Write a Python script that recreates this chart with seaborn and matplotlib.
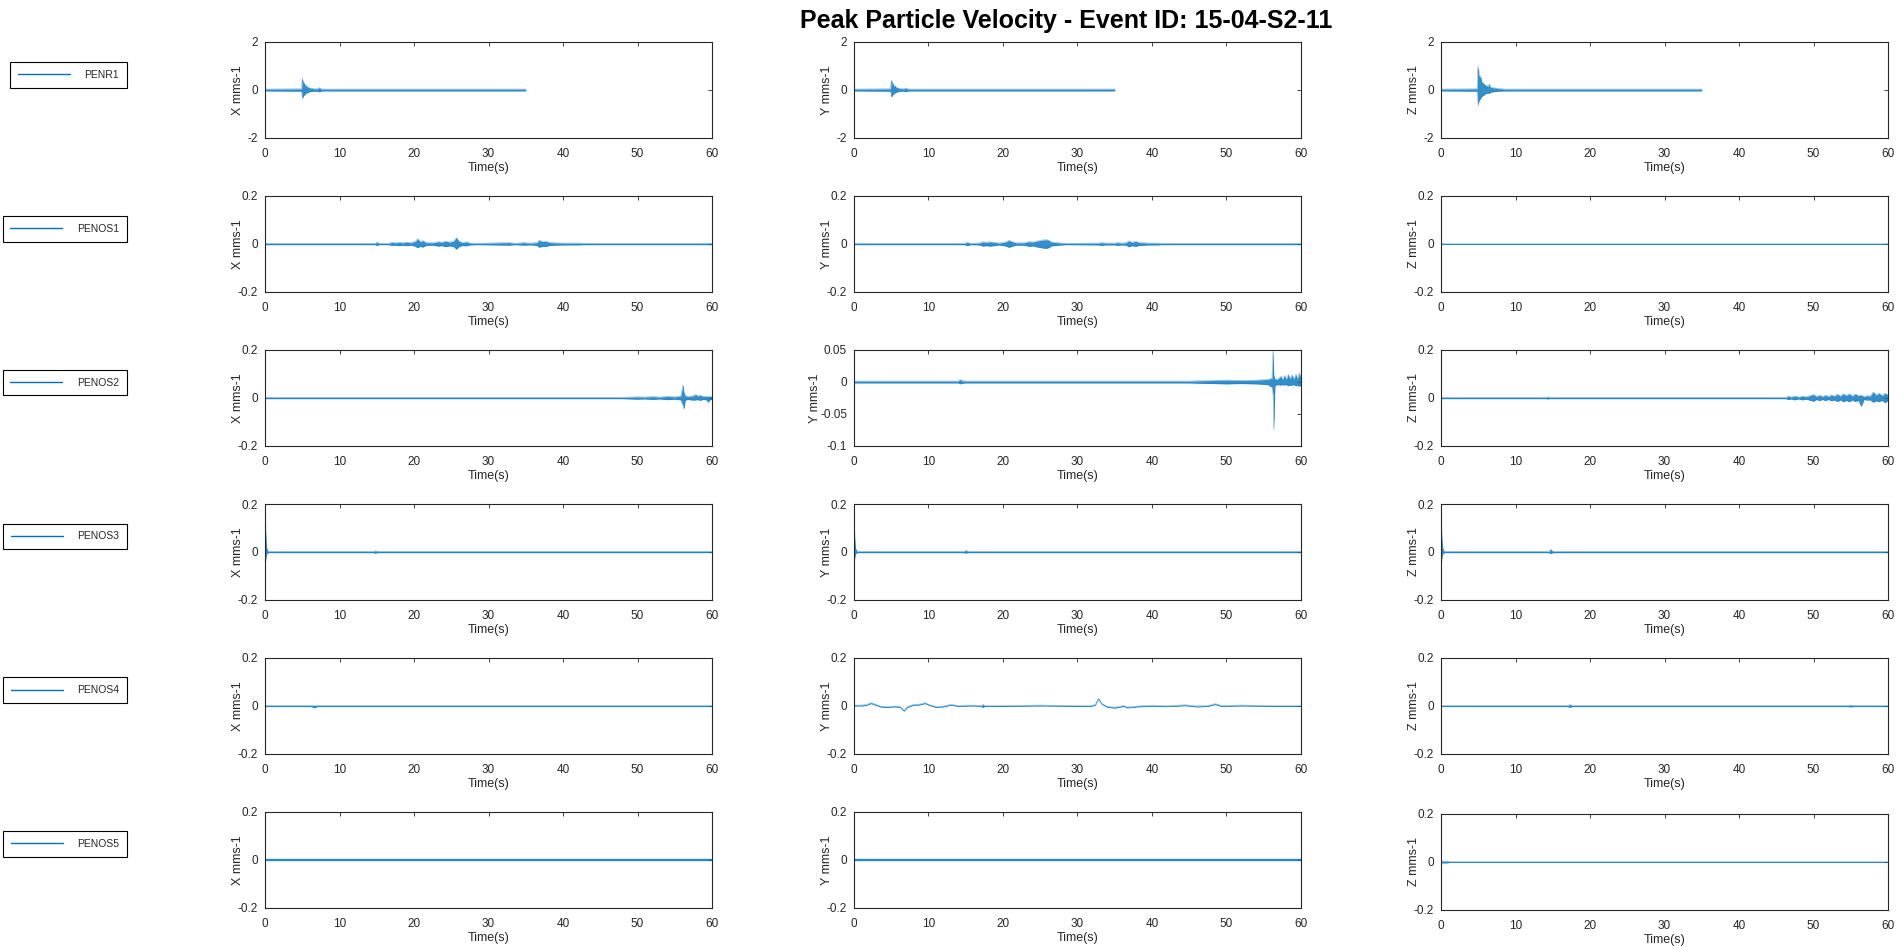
import matplotlib
matplotlib.use('Agg')
import numpy as np
import pandas as pd
import matplotlib.pyplot as plt
from matplotlib.lines import Line2D
import seaborn as sns

# station names, components, axis settings
stations = ['PENR1', 'PENOS1', 'PENOS2', 'PENOS3', 'PENOS4', 'PENOS5']
components = ['X', 'Y', 'Z']
title = 'Peak Particle Velocity - Event ID: 15-04-S2-11'
x_ticks = [0, 10, 20, 30, 40, 50, 60]
big_ticks = [-2, 0, 2]
big_labels = ['-2', '0', '2']
small_ticks = [-0.2, 0, 0.2]
small_labels = ['-0.2', '0', '0.2']
penos2_y_ticks = [-0.1, -0.05, 0, 0.05]
penos2_y_labels = ['-0.1', '-0.05', '0', '0.05']

# traces: time (s), upper and lower envelope (mm/s)
penr1_x_t = [0, 4.9, 5.0, 5.05, 5.1, 5.15, 5.2, 5.3, 5.4, 5.5, 5.65, 5.8, 6.0, 6.3, 6.6, 7.0, 7.3, 7.45, 7.8, 35]
penr1_x_hi = [0.04, 0.05, 0.5, 0.3, 0.42, 0.25, 0.32, 0.26, 0.18, 0.2, 0.12, 0.13, 0.08, 0.07, 0.05, 0.05, 0.1, 0.05, 0.04, 0.04]
penr1_x_lo = [-0.04, -0.05, -0.3, -0.36, -0.22, -0.3, -0.18, -0.24, -0.14, -0.15, -0.1, -0.1, -0.07, -0.06, -0.05, -0.05, -0.08, -0.05, -0.04, -0.04]

penr1_y_t = [0, 4.9, 5.0, 5.05, 5.1, 5.15, 5.2, 5.3, 5.4, 5.5, 5.65, 5.8, 6.0, 6.3, 6.7, 7.0, 7.1, 7.5, 35]
penr1_y_hi = [0.04, 0.05, 0.4, 0.25, 0.38, 0.22, 0.3, 0.2, 0.16, 0.18, 0.1, 0.11, 0.07, 0.06, 0.05, 0.09, 0.05, 0.04, 0.04]
penr1_y_lo = [-0.04, -0.05, -0.25, -0.3, -0.2, -0.26, -0.16, -0.2, -0.12, -0.13, -0.09, -0.09, -0.06, -0.05, -0.05, -0.08, -0.05, -0.04, -0.04]

penr1_z_t = [0, 4.85, 4.95, 5.0, 5.05, 5.1, 5.2, 5.3, 5.35, 5.45, 5.6, 5.8, 6.0, 6.3, 6.5, 6.6, 6.9, 7.3, 7.8, 8.5, 35]
penr1_z_hi = [0.04, 0.05, 1.0, 0.7, 0.9, 0.5, 0.6, 0.4, 0.55, 0.35, 0.3, 0.24, 0.2, 0.15, 0.25, 0.12, 0.1, 0.08, 0.06, 0.04, 0.04]
penr1_z_lo = [-0.04, -0.05, -0.5, -0.65, -0.45, -0.5, -0.35, -0.4, -0.3, -0.28, -0.24, -0.2, -0.15, -0.12, -0.15, -0.1, -0.08, -0.06, -0.05, -0.04, -0.04]

penos1_x_t = [0, 14.8, 15.0, 15.3, 16.6, 17.0, 17.5, 18.0, 18.5, 19.0, 19.6, 20.2, 20.5, 20.8, 21.2, 21.6, 22.5, 23.3, 23.7, 24.2, 24.8, 25.3, 25.7,
              26.0, 26.5, 27.0, 27.5, 28.5, 32.8, 33.2, 33.6, 34.8, 35.3, 35.8, 36.5, 36.8, 37.2, 37.7, 38.3, 39.0, 40.0, 41.0, 42.0, 43.0, 60]
penos1_x_hi = [0.003, 0.003, 0.008, 0.003, 0.003, 0.007, 0.005, 0.007, 0.005, 0.008, 0.005, 0.012, 0.022, 0.01, 0.014, 0.006, 0.005, 0.01, 0.007, 0.012, 0.008, 0.012, 0.027,
               0.012, 0.006, 0.009, 0.004, 0.003, 0.006, 0.004, 0.003, 0.006, 0.004, 0.004, 0.006, 0.016, 0.01, 0.011, 0.006, 0.005, 0.004, 0.004, 0.004, 0.003, 0.003]
penos1_x_lo = [-0.003, -0.003, -0.007, -0.003, -0.003, -0.006, -0.005, -0.007, -0.005, -0.007, -0.005, -0.01, -0.016, -0.01, -0.013, -0.006, -0.005, -0.009, -0.007, -0.011, -0.008, -0.011, -0.022,
               -0.012, -0.006, -0.008, -0.004, -0.003, -0.005, -0.004, -0.003, -0.005, -0.004, -0.004, -0.006, -0.014, -0.01, -0.01, -0.006, -0.005, -0.004, -0.004, -0.004, -0.003, -0.003]

penos1_y_t = [0, 14.8, 15.2, 15.6, 16.8, 17.3, 17.8, 18.3, 19.0, 19.5, 20.3, 20.8, 21.2, 21.7, 22.8, 23.5, 24.0, 24.5, 25.0, 25.4, 25.8,
              26.1, 26.5, 27.5, 28.5, 32.8, 33.2, 33.7, 35.0, 35.4, 35.9, 36.5, 36.9, 37.3, 37.8, 38.3, 39.0, 39.5, 40.7, 41.2, 43.0, 60]
penos1_y_hi = [0.003, 0.003, 0.007, 0.003, 0.004, 0.009, 0.007, 0.009, 0.006, 0.004, 0.008, 0.015, 0.01, 0.005, 0.005, 0.01, 0.008, 0.012, 0.015, 0.017, 0.018,
               0.016, 0.008, 0.005, 0.003, 0.004, 0.006, 0.004, 0.004, 0.006, 0.004, 0.005, 0.013, 0.007, 0.011, 0.006, 0.005, 0.004, 0.004, 0.003, 0.003, 0.003]
penos1_y_lo = [-0.003, -0.003, -0.007, -0.003, -0.004, -0.009, -0.007, -0.009, -0.006, -0.004, -0.008, -0.014, -0.01, -0.005, -0.005, -0.01, -0.008, -0.012, -0.015, -0.017, -0.018,
               -0.016, -0.008, -0.005, -0.003, -0.004, -0.006, -0.004, -0.004, -0.006, -0.004, -0.005, -0.012, -0.007, -0.01, -0.006, -0.005, -0.004, -0.004, -0.003, -0.003, -0.003]

penos1_z_t = [0, 0.5, 1.0, 60]
penos1_z_hi = [0.003, 0.002, 0.002, 0.002]
penos1_z_lo = [-0.003, -0.002, -0.002, -0.002]

penos2_x_t = [0, 48, 50, 51, 52, 53, 54, 55, 55.8, 56.1, 56.25, 56.4, 56.7, 57.2, 57.5, 57.8, 58.1, 58.4, 58.8, 59.2, 59.5, 59.7, 60]
penos2_x_hi = [0.003, 0.003, 0.005, 0.004, 0.006, 0.004, 0.007, 0.005, 0.008, 0.055, 0.02, 0.01, 0.006, 0.008, 0.01, 0.015, 0.008, 0.012, 0.006, 0.007, 0.006, 0.006, 0.008]
penos2_x_lo = [-0.003, -0.003, -0.005, -0.004, -0.006, -0.004, -0.007, -0.005, -0.008, -0.03, -0.045, -0.01, -0.006, -0.008, -0.009, -0.008, -0.007, -0.01, -0.006, -0.007, -0.018, -0.008, -0.006]

penos2_y_t = [0, 14.0, 14.2, 14.5, 15, 45, 50, 52, 54, 55.5, 56.1, 56.25, 56.35, 56.5, 56.8, 57.3, 57.5, 57.8, 58.0, 58.3, 58.5, 58.8, 59.0, 59.3, 59.5, 59.8, 60]
penos2_y_hi = [0.0015, 0.0015, 0.004, 0.002, 0.0015, 0.0015, 0.003, 0.0025, 0.003, 0.004, 0.006, 0.05, 0.01, 0.005, 0.004, 0.009, 0.004, 0.01, 0.004, 0.012, 0.005, 0.011, 0.004, 0.012, 0.005, 0.014, 0.003]
penos2_y_lo = [-0.0015, -0.0015, -0.003, -0.002, -0.0015, -0.0015, -0.003, -0.0025, -0.003, -0.004, -0.008, -0.02, -0.075, -0.006, -0.004, -0.005, -0.004, -0.005, -0.004, -0.006, -0.005, -0.005, -0.004, -0.006, -0.005, -0.007, -0.003]

penos2_z_t = [0, 14.1, 14.3, 14.6, 46.3, 46.6, 47.0, 47.5, 48.0, 48.5, 49.0, 49.5, 50.0, 50.4, 50.8, 51.2, 51.6, 52.0, 52.4,
              52.8, 53.2, 53.6, 54.0, 54.4, 54.8, 55.2, 55.6, 56.0, 56.4, 56.8, 57.2, 57.6, 58.0, 58.4, 58.8, 59.2, 59.6, 60]
penos2_z_hi = [0.003, 0.003, 0.005, 0.003, 0.003, 0.008, 0.004, 0.009, 0.004, 0.008, 0.005, 0.01, 0.015, 0.006, 0.012, 0.006, 0.012, 0.006, 0.013,
               0.008, 0.016, 0.008, 0.018, 0.01, 0.018, 0.008, 0.017, 0.01, 0.012, 0.006, 0.01, 0.008, 0.025, 0.012, 0.02, 0.01, 0.02, 0.012]
penos2_z_lo = [-0.003, -0.003, -0.004, -0.003, -0.003, -0.007, -0.004, -0.008, -0.004, -0.008, -0.005, -0.009, -0.014, -0.006, -0.011, -0.006, -0.011, -0.006, -0.012,
               -0.008, -0.015, -0.008, -0.016, -0.01, -0.016, -0.008, -0.015, -0.01, -0.035, -0.006, -0.009, -0.008, -0.018, -0.012, -0.016, -0.01, -0.02, -0.01]

penos3_x_t = [0, 0.05, 0.1, 0.2, 0.4, 14.5, 14.8, 15.1, 60]
penos3_x_hi = [0.004, 0.14, 0.08, 0.02, 0.003, 0.003, 0.005, 0.003, 0.003]
penos3_x_lo = [-0.004, -0.045, -0.03, -0.01, -0.003, -0.003, -0.005, -0.003, -0.003]

penos3_y_t = [0, 0.05, 0.1, 0.2, 0.4, 14.7, 15.0, 15.3, 60]
penos3_y_hi = [0.004, 0.11, 0.06, 0.015, 0.003, 0.003, 0.007, 0.003, 0.003]
penos3_y_lo = [-0.004, -0.04, -0.025, -0.008, -0.003, -0.003, -0.005, -0.003, -0.003]

penos3_z_t = [0, 0.05, 0.1, 0.2, 0.4, 14.5, 14.7, 14.9, 15.2, 60]
penos3_z_hi = [0.004, 0.13, 0.07, 0.02, 0.003, 0.003, 0.012, 0.005, 0.003, 0.003]
penos3_z_lo = [-0.004, -0.05, -0.03, -0.01, -0.003, -0.003, -0.007, -0.004, -0.003, -0.003]

penos4_x_t = [0, 6.2, 6.6, 7.0, 60]
penos4_x_hi = [0.0025, 0.0025, 0.002, 0.0025, 0.0025]
penos4_x_lo = [-0.0025, -0.0025, -0.008, -0.0025, -0.0025]

penos4_y_t = [0, 1.0, 1.6, 2.3, 3.0, 3.6, 4.5, 5.5, 6.2, 6.7, 7.2, 8.0, 8.8, 9.5, 10.2, 11.0, 12.0, 13.0, 14.0, 16.0, 17.1, 17.3, 17.5, 20.0,
              25.0, 30.0, 31.8, 32.4, 32.8, 33.3, 34.0, 35.0, 35.5, 36.2, 36.6, 37.2, 38.0, 40.0, 42.0, 44.5, 46.0, 47.5, 48.5, 49.3, 52.0, 56.0, 60]
penos4_y_hi = [0.004, 0.004, 0.006, 0.014, 0.006, -0.001, -0.002, 0.0, -0.002, -0.018, -0.002, 0.007, 0.008, 0.014, 0.005, -0.002, 0.0, 0.007, 0.002, 0.004, 0.002, 0.007, 0.002, 0.002,
               0.004, 0.002, 0.002, 0.007, 0.032, 0.01, -0.002, -0.005, -0.002, 0.002, -0.004, -0.003, 0.0, 0.003, 0.001, 0.005, 0.0, 0.002, 0.01, 0.002, 0.004, 0.002, 0.002]
penos4_y_lo = [0.0, 0.0, 0.002, 0.01, 0.002, -0.005, -0.006, -0.004, -0.006, -0.022, -0.006, 0.003, 0.004, 0.01, 0.001, -0.006, -0.004, 0.003, -0.002, 0.0, -0.002, -0.007, -0.002, -0.002,
               0.0, -0.002, -0.002, 0.003, 0.028, 0.006, -0.006, -0.009, -0.006, -0.002, -0.008, -0.007, -0.004, -0.001, -0.003, 0.001, -0.004, -0.002, 0.006, -0.002, 0.0, -0.002, -0.002]

penos4_z_t = [0, 17.0, 17.3, 17.6, 54.5, 55.0, 55.5, 60]
penos4_z_hi = [0.0025, 0.0025, 0.006, 0.0025, 0.0025, 0.004, 0.0025, 0.0025]
penos4_z_lo = [-0.0025, -0.0025, -0.006, -0.0025, -0.0025, -0.004, -0.0025, -0.0025]

penos5_x_t = [0, 60]
penos5_x_hi = [0.003, 0.003]
penos5_x_lo = [-0.003, -0.003]

penos5_y_t = [0, 60]
penos5_y_hi = [0.0025, 0.0025]
penos5_y_lo = [-0.0025, -0.0025]

penos5_z_t = [0, 0.8, 1.2, 60]
penos5_z_hi = [0.004, 0.004, 0.002, 0.002]
penos5_z_lo = [-0.004, -0.004, -0.002, -0.002]

traces = {
    (0, 0): (penr1_x_t, penr1_x_hi, penr1_x_lo),
    (0, 1): (penr1_y_t, penr1_y_hi, penr1_y_lo),
    (0, 2): (penr1_z_t, penr1_z_hi, penr1_z_lo),
    (1, 0): (penos1_x_t, penos1_x_hi, penos1_x_lo),
    (1, 1): (penos1_y_t, penos1_y_hi, penos1_y_lo),
    (1, 2): (penos1_z_t, penos1_z_hi, penos1_z_lo),
    (2, 0): (penos2_x_t, penos2_x_hi, penos2_x_lo),
    (2, 1): (penos2_y_t, penos2_y_hi, penos2_y_lo),
    (2, 2): (penos2_z_t, penos2_z_hi, penos2_z_lo),
    (3, 0): (penos3_x_t, penos3_x_hi, penos3_x_lo),
    (3, 1): (penos3_y_t, penos3_y_hi, penos3_y_lo),
    (3, 2): (penos3_z_t, penos3_z_hi, penos3_z_lo),
    (4, 0): (penos4_x_t, penos4_x_hi, penos4_x_lo),
    (4, 1): (penos4_y_t, penos4_y_hi, penos4_y_lo),
    (4, 2): (penos4_z_t, penos4_z_hi, penos4_z_lo),
    (5, 0): (penos5_x_t, penos5_x_hi, penos5_x_lo),
    (5, 1): (penos5_y_t, penos5_y_hi, penos5_y_lo),
    (5, 2): (penos5_z_t, penos5_z_hi, penos5_z_lo),
}

BLUE = '#0072BD'
DARK = '#262626'

sns.set_theme(style='white')
plt.rcParams['font.family'] = ['Liberation Sans', 'DejaVu Sans']
plt.rcParams['axes.unicode_minus'] = False

W, H = 1899, 948
fig = plt.figure(figsize=(W / 100, H / 100), dpi=100)

col_left = [265, 854, 1441]
ax_w, ax_h = 447, 96

for r, station in enumerate(stations):
    top = 42 + 154 * r
    for c, comp in enumerate(components):
        t_px = top + (2 if (r == 5 and c == 2) else 0)
        ax = fig.add_axes([col_left[c] / W, 1 - (t_px + ax_h) / H, ax_w / W, ax_h / H])
        t, hi, lo = traces[(r, c)]
        df = pd.DataFrame({'Time': t, 'hi': hi, 'lo': lo})
        ax.fill_between(df['Time'], df['lo'], df['hi'], color=BLUE, lw=0, alpha=0.8)
        sns.lineplot(data=df, x='Time', y='hi', ax=ax, color=BLUE, lw=0.35,
                     estimator=None, sort=False, alpha=0.6)
        sns.lineplot(data=df, x='Time', y='lo', ax=ax, color=BLUE, lw=0.35,
                     estimator=None, sort=False, alpha=0.6)

        ax.set_xlim(0, 60)
        ax.set_xticks(x_ticks)
        ax.set_xticklabels([str(v) for v in x_ticks])
        if r == 0:
            ax.set_ylim(-2, 2)
            ax.set_yticks(big_ticks)
            ax.set_yticklabels(big_labels)
        elif r == 2 and c == 1:
            ax.set_ylim(-0.1, 0.05)
            ax.set_yticks(penos2_y_ticks)
            ax.set_yticklabels(penos2_y_labels)
        else:
            ax.set_ylim(-0.2, 0.2)
            ax.set_yticks(small_ticks)
            ax.set_yticklabels(small_labels)

        ax.tick_params(direction='in', top=True, right=True, length=3, width=0.6,
                       labelsize=8.5, colors=DARK)
        ax.tick_params(axis='x', pad=7)
        ax.tick_params(axis='y', pad=5)
        for s in ax.spines.values():
            s.set_color(DARK)
            s.set_linewidth(0.8)
            s.set_visible(True)
        ax.set_xlabel('Time(s)', fontsize=9, color=DARK)
        ax.xaxis.set_label_coords(0.5, -24 / ax_h)
        ax.set_ylabel(f'{comp} mms-1', fontsize=9, color=DARK)
        lab_off = 33 if (r == 2 and c == 1) else 21
        ax.yaxis.set_label_coords(-lab_off / ax_w, 0.5)

    # station legend on the left
    leg_y = 75 + 153.8 * r
    leg = fig.legend(handles=[Line2D([0], [0], color=BLUE, lw=1)], labels=[station],
                     loc='center right', bbox_to_anchor=(127 / W, 1 - leg_y / H),
                     borderaxespad=0, frameon=True, fancybox=False, edgecolor='black',
                     framealpha=1, fontsize=7.5, handlelength=5.0, borderpad=0.75,
                     handletextpad=1.4)
    leg.get_frame().set_linewidth(0.8)

fig.text(1066 / W, 1 - 21 / H, title, ha='center', va='center',
         fontsize=18, fontweight='bold', color='black')

fig.savefig('out.png', dpi=100)
